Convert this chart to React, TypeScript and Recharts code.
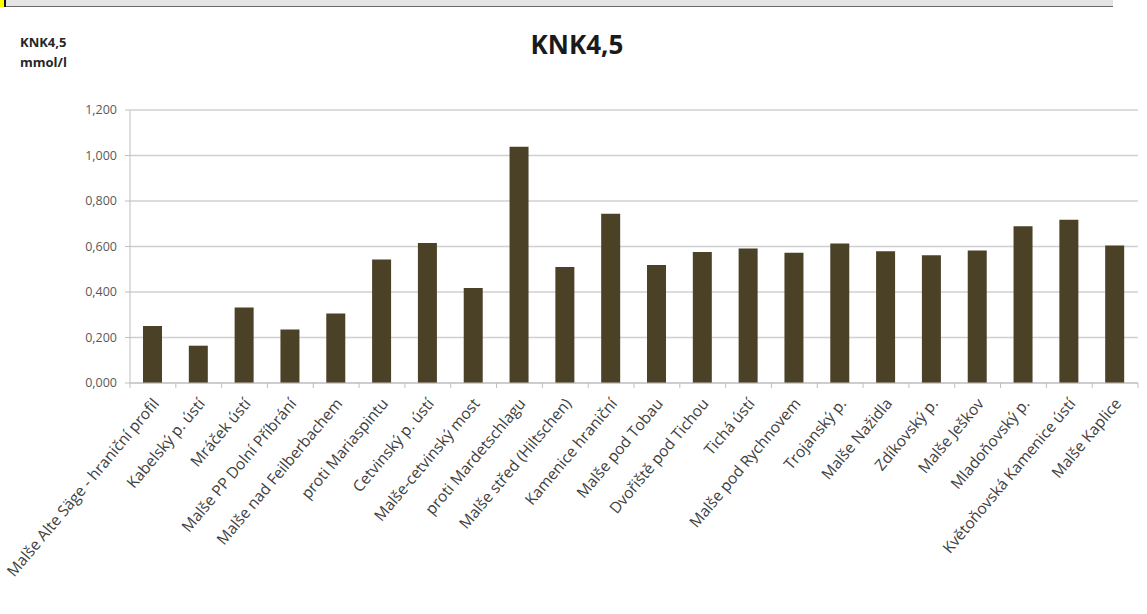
import React from "react";
import { BarChart, Bar, XAxis, YAxis, CartesianGrid } from "recharts";

const categories: string[] = [
  "Malše Alte Säge - hraniční profil",
  "Kabelský p. ústí",
  "Mráček ústí",
  "Malše PP Dolní Příbrání",
  "Malše nad Feilberbachem",
  "proti Mariaspintu",
  "Cetvinský p. ústí",
  "Malše-cetvinský most",
  "proti Mardetschlagu",
  "Malše střed (Hiltschen)",
  "Kamenice hraniční",
  "Malše pod Tobau",
  "Dvořiště pod  Tichou",
  "Tichá ústí",
  "Malše pod Rychnovem",
  "Trojanský p.",
  "Malše Nažidla",
  "Zdíkovský p.",
  "Malše Ješkov",
  "Mladoňovský p.",
  "Květoňovská Kamenice ústí",
  "Malše Kaplice",
];

const knkValues: number[] = [
  0.251, 0.164, 0.332, 0.235, 0.306, 0.543, 0.615, 0.418, 1.039, 0.51, 0.744,
  0.519, 0.576, 0.591, 0.573, 0.613, 0.579, 0.561, 0.582, 0.689, 0.718, 0.604,
];

const yTicks: number[] = [0, 0.2, 0.4, 0.6, 0.8, 1.0, 1.2];

const title = "KNK4,5";
const yLabelLine1 = "KNK4,5";
const yLabelLine2 = "mmol/l";

const data = categories.map((name, i) => ({ name, value: knkValues[i] }));

const FONT = "'Open Sans', 'DejaVu Sans', sans-serif";

const fmt = (v: number) => v.toFixed(3).replace(".", ",");

const XTick = (props: any) => {
  const { x, y, payload, index } = props;
  const half = payload && payload.offset ? payload.offset : 22.9;
  const last = index === categories.length - 1;
  return (
    <g>
      <line x1={x - half} y1={y} x2={x - half} y2={y + 5} stroke="#bfbfbf" />
      {last && <line x1={x + half} y1={y} x2={x + half} y2={y + 5} stroke="#bfbfbf" />}
      <g transform={`translate(${x + 7},${y + 21})`}>
        <text
          x={0}
          y={0}
          textAnchor="end"
          transform="rotate(-50)"
          fontSize={15.5}
          fontFamily={FONT}
          fill="#404040"
        >
          {payload.value}
        </text>
      </g>
    </g>
  );
};

export default function App() {
  return (
    <div style={{ position: "absolute", left: 0, top: 0, width: 1147, height: 614, background: "#fff" }}>
      <div style={{ position: "absolute", left: 0, top: 0, width: 1113, height: 6, background: "#e4e4e4", borderBottom: "1px solid #6a6a6a" }} />
      <div style={{ position: "absolute", left: 0, top: 0, width: 4, height: 7, background: "#ffff00", borderRight: "2px solid #111" }} />
      <div style={{ position: "absolute", left: 0, top: 0 }}>
        <BarChart
          width={1147}
          height={614}
          data={data}
          margin={{ top: 110, right: 9, bottom: 0, left: 0 }}
          barSize={19}
        >
          <text x={577} y={54} textAnchor="middle" fontSize={26} fontWeight="bold" fontFamily={FONT} fill="#1a1a1a">
            {title}
          </text>
          <text x={20} y={47} fontSize={13} fontWeight="bold" fontFamily={FONT} fill="#262626">
            {yLabelLine1}
          </text>
          <text x={20} y={67} fontSize={13} fontWeight="bold" fontFamily={FONT} fill="#262626">
            {yLabelLine2}
          </text>
          <CartesianGrid vertical={false} stroke="#d0d0d0" strokeWidth={1.5} />
          <XAxis
            dataKey="name"
            interval={0}
            height={231}
            tickSize={0}
            tickMargin={0}
            tickLine={false}
            axisLine={{ stroke: "#bfbfbf" }}
            tick={<XTick />}
          />
          <YAxis
            width={130}
            domain={[0, 1.2]}
            ticks={yTicks}
            tickFormatter={fmt}
            tickSize={5}
            tickMargin={8}
            tickLine={{ stroke: "#bfbfbf" }}
            axisLine={{ stroke: "#bfbfbf" }}
            tick={{ fontSize: 12.5, fontFamily: FONT, fill: "#595959" }}
            interval={0}
          />
          <Bar dataKey="value" fill="#4a4127" isAnimationActive={false} />
        </BarChart>
      </div>
    </div>
  );
}
